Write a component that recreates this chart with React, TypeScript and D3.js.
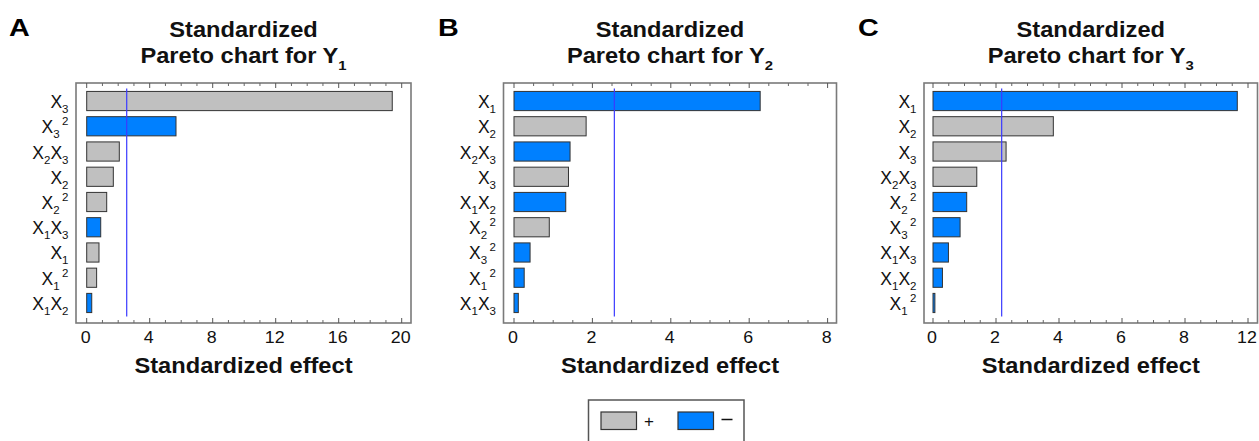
import React from "react";
import * as d3 from "d3";

// ---------- data ----------
type Term = { b: string; sub?: string; sup?: string };
// labels encoded as "X3^2", "X2X3" etc.
const labelsA = ["X3", "X3^2", "X2X3", "X2", "X2^2", "X1X3", "X1", "X1^2", "X1X2"];
const valuesA = [19.4, 5.67, 2.07, 1.69, 1.27, 0.89, 0.78, 0.63, 0.32];
const signsA = ["+", "-", "+", "+", "+", "-", "+", "+", "-"];
const refA = 2.54;
const ticksA = [0, 4, 8, 12, 16, 20];
const tickLabelsA = ["0", "4", "8", "12", "16", "20"];

const labelsB = ["X1", "X2", "X2X3", "X3", "X1X2", "X2^2", "X3^2", "X1^2", "X1X3"];
const valuesB = [6.28, 1.84, 1.43, 1.39, 1.32, 0.9, 0.41, 0.26, 0.11];
const signsB = ["-", "+", "-", "+", "-", "+", "-", "-", "-"];
const refB = 2.56;
const ticksB = [0, 2, 4, 6, 8];
const tickLabelsB = ["0", "2", "4", "6", "8"];

const labelsC = ["X1", "X2", "X3", "X2X3", "X2^2", "X3^2", "X1X3", "X1X2", "X1^2"];
const valuesC = [9.66, 3.82, 2.32, 1.39, 1.07, 0.86, 0.49, 0.3, 0.06];
const signsC = ["-", "+", "+", "+", "-", "-", "-", "-", "-"];
const refC = 2.18;
const ticksC = [0, 2, 4, 6, 8, 10];
const tickLabelsC = ["0", "2", "4", "6", "8", "12"];

const GRAY = "#c0c0c0";
const BLUE = "#0080ff";
const FONT = "Arial, 'Liberation Sans', Helvetica, sans-serif";

function parseLabel(s: string): Term[] {
  const [main, sup] = s.split("^");
  const terms: Term[] = [];
  const re = /X(\d)/g;
  let m;
  while ((m = re.exec(main))) terms.push({ b: "X", sub: m[1] });
  if (sup) terms[terms.length - 1].sup = sup;
  return terms;
}

function AxisLabel({ x, y, label }: { x: number; y: number; label: string }) {
  const terms = parseLabel(label);
  const spans: React.ReactNode[] = [];
  let cur = 0;
  terms.forEach((t, i) => {
    spans.push(
      <tspan key={i + "b"} dy={0 - cur} fontSize={17.5}>
        {t.b}
      </tspan>
    );
    cur = 0;
    if (t.sub) {
      spans.push(
        <tspan key={i + "s"} dy={5 - cur} fontSize={11.5}>
          {t.sub}
        </tspan>
      );
      cur = 5;
    }
    if (t.sup) {
      spans.push(
        <tspan key={i + "p"} dy={-8 - cur} dx={2.5} fontSize={11.5}>
          {t.sup}
        </tspan>
      );
      cur = -8;
    }
  });
  return (
    <text x={x} y={y} textAnchor="end" fontFamily={FONT} fill="#111">
      {spans}
    </text>
  );
}

function Stretched({
  x, y, sx, size, bold = true, children,
}: { x: number; y: number; sx: number; size: number; bold?: boolean; children: React.ReactNode }) {
  return (
    <g transform={`translate(${x},${y}) scale(${sx},1)`}>
      <text x={0} y={0} textAnchor="middle" fontFamily={FONT} fontWeight={bold ? "bold" : "normal"} fontSize={size} fill="#111">
        {children}
      </text>
    </g>
  );
}

type PanelProps = {
  letter: string;
  letterX: number;
  sub: string;
  left: number;
  right: number;
  zeroX: number;
  maxX: number;
  domainMax: number;
  labels: string[];
  values: number[];
  signs: string[];
  refv: number;
  ticks: number[];
  tickLabels: string[];
  minorStep: number;
};

function Panel(p: PanelProps) {
  const top = 83;
  const bottom = 323;
  const x = d3.scaleLinear().domain([0, p.domainMax]).range([p.zeroX, p.maxX]);
  const y = d3
    .scaleBand<string>()
    .domain(p.labels)
    .range([88.4, 315.6])
    .paddingInner(0.24)
    .paddingOuter(0.12);
  const cx = (p.left + p.right) / 2;
  const maxVal = x.invert(p.right);
  const minor = d3.range(0, maxVal + 1e-6, p.minorStep).filter(
    (v) => !p.ticks.some((t) => Math.abs(t - v) < 1e-6)
  );
  return (
    <g>
      <g transform={`translate(${p.letterX},36) scale(1.25,1)`}>
        <text x={0} y={0} fontFamily={FONT} fontWeight="bold" fontSize={23} fill="#000">
          {p.letter}
        </text>
      </g>
      <Stretched x={cx} y={37} sx={1.1} size={21.5}>
        Standardized
      </Stretched>
      <Stretched x={cx} y={63} sx={1.1} size={21.5}>
        Pareto chart for Y
        <tspan dy={7} fontSize={13.5}>
          {p.sub}
        </tspan>
      </Stretched>
      {/* bars */}
      {p.labels.map((l, i) => (
        <rect
          key={l}
          x={x(0)}
          y={y(l)!}
          width={x(p.values[i]) - x(0)}
          height={y.bandwidth()}
          fill={p.signs[i] === "+" ? GRAY : BLUE}
          stroke="#333"
          strokeWidth={1}
        />
      ))}
      {/* reference line */}
      <line x1={x(p.refv)} x2={x(p.refv)} y1={88.5} y2={316.5} stroke="#3a3aff" strokeWidth={1.2} />
      {/* frame */}
      <rect x={p.left} y={top} width={p.right - p.left} height={bottom - top} fill="none" stroke="#7a7a7a" strokeWidth={1.6} />
      {/* ticks */}
      {p.ticks.map((t) => (
        <g key={"t" + t}>
          <line x1={x(t)} x2={x(t)} y1={bottom} y2={bottom - 5} stroke="#555" strokeWidth={1} />
          <line x1={x(t)} x2={x(t)} y1={top} y2={top + 5} stroke="#555" strokeWidth={1} />
        </g>
      ))}
      {minor.map((t) => (
        <g key={"m" + t}>
          <line x1={x(t)} x2={x(t)} y1={bottom} y2={bottom - 3} stroke="#666" strokeWidth={1} />
          <line x1={x(t)} x2={x(t)} y1={top} y2={top + 3} stroke="#666" strokeWidth={1} />
        </g>
      ))}
      {p.ticks.map((t, i) => (
        <Stretched key={"l" + t} x={x(t) - 1} y={343} sx={1.08} size={16.5} bold={false}>
          {p.tickLabels[i]}
        </Stretched>
      ))}
      <Stretched x={cx} y={373} sx={1.1} size={21.5}>
        Standardized effect
      </Stretched>
      {p.labels.map((l) => (
        <AxisLabel key={"a" + l} x={p.left - 7.5} y={y(l)! + y.bandwidth() / 2 + 7} label={l} />
      ))}
    </g>
  );
}

export default function App() {
  return (
    <svg
      width={1259}
      height={441}
      style={{ position: "absolute", left: 0, top: 0, background: "#fff" }}
    >
      <rect width={1259} height={441} fill="#fff" />
      <Panel
        letter="A" letterX={9} sub="1" left={76} right={411} zeroX={86.7} maxX={401.7} domainMax={20}
        labels={labelsA} values={valuesA} signs={signsA} refv={refA} ticks={ticksA} tickLabels={tickLabelsA} minorStep={1}
      />
      <Panel
        letter="B" letterX={438} sub="2" left={503.5} right={836.5} zeroX={514} maxX={827.6} domainMax={8}
        labels={labelsB} values={valuesB} signs={signsB} refv={refB} ticks={ticksB} tickLabels={tickLabelsB} minorStep={0.5}
      />
      <Panel
        letter="C" letterX={858} sub="3" left={924} right={1257.5} zeroX={933} maxX={1248} domainMax={10}
        labels={labelsC} values={valuesC} signs={signsC} refv={refC} ticks={ticksC} tickLabels={tickLabelsC} minorStep={0.5}
      />
      {/* legend */}
      <rect x={588.5} y={400} width={155.5} height={60} fill="#fff" stroke="#555" strokeWidth={1.5} />
      <rect x={601} y={412} width={35.5} height={17.5} fill={GRAY} stroke="#333" strokeWidth={1.2} />
      <text x={649} y={426.5} textAnchor="middle" fontFamily={FONT} fontSize={17} fill="#111">+</text>
      <rect x={678} y={412} width={35.5} height={17.5} fill={BLUE} stroke="#333" strokeWidth={1.2} />
      <line x1={721.5} x2={732.5} y1={419.5} y2={419.5} stroke="#111" strokeWidth={1.5} />
    </svg>
  );
}
